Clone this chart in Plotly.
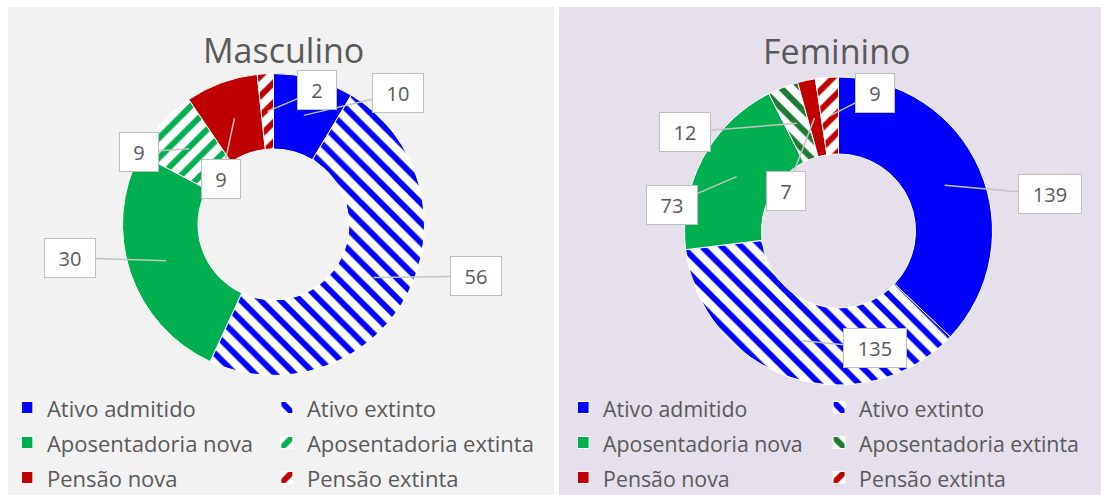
import math
import plotly.graph_objects as go

# ---------------- data ----------------
categories = ["Ativo admitido", "Ativo extinto", "Aposentadoria nova",
              "Aposentadoria extinta", "Pensão nova", "Pensão extinta"]
masculino = [10, 56, 30, 9, 9, 2]
feminino = [139, 135, 73, 12, 7, 9]
titles = ["Masculino", "Feminino"]

# ---------------- styling ----------------
W, H = 1104, 495
ML, MR, MT, MB = 16, 8, 0, 0
PW, PH = W - ML - MR, H - MT - MB
GRAY = "#595959"
FONT = "Open Sans"


def px(x):
    return (x - ML) / PW


def py(y):
    return 1 - (y - MT) / PH


BLUE, GREEN, RED = "#0000ff", "#00b050", "#c00000"
solid_m = [BLUE, "white", GREEN, "white", RED, "white"]
fg_m = [BLUE, BLUE, GREEN, GREEN, RED, RED]
shape_m = ["", "\\", "", "/", "", "/"]
solid_f = [BLUE, "white", GREEN, "white", RED, "white"]
fg_f = [BLUE, BLUE, GREEN, "#1e7b34", RED, RED]
shape_f = ["", "\\", "", "\\", "", "/"]

# donut geometry in pixels: (left, right, top, bottom)
boxes = [(122.5, 424.5, 73.5, 375.5), (684.5, 992.5, 77.0, 385.0)]
HOLE = 0.5

# label box offsets (pixels, from anchor point on the slice)
offs_m = [(94, -22), (102, -1.5), (-96, -3), (-50, 3), (-13, 61), (50, -21)]
offs_f = [(105, 9), (73, 7), (-65, 28), (-112, 9), (-28, 73), (45, -23)]

legend_sizes = [22, 21.3]

fig = go.Figure()
datasets = [(masculino, solid_m, fg_m, shape_m, "legend"),
            (feminino, solid_f, fg_f, shape_f, "legend2")]
for (vals, cols, fgs, shapes, leg), (x0, x1, y0, y1), fs in zip(datasets, boxes, legend_sizes):
    labels = ["<span style='font-size:%spx'>%s</span>" % (fs, c) for c in categories]
    fig.add_trace(go.Pie(
        labels=labels, values=vals, sort=False, direction="clockwise",
        rotation=0, hole=HOLE, textinfo="none", hoverinfo="label+value",
        domain=dict(x=[px(x0), px(x1)], y=[py(y1), py(y0)]),
        marker=dict(colors=cols, line=dict(color="white", width=1),
                    pattern=dict(shape=shapes, fgcolor=fgs, bgcolor=cols,
                                 size=14, solidity=0.42)),
        legend=leg, showlegend=True,
    ))

# panel backgrounds
shapes_list = [
    dict(type="rect", xref="paper", yref="paper", x0=px(8), x1=px(554),
         y0=py(496), y1=py(7), fillcolor="#f2f2f2", line_width=0, layer="below"),
    dict(type="rect", xref="paper", yref="paper", x0=px(559), x1=px(1101),
         y0=py(496), y1=py(7), fillcolor="#e5e0ec", line_width=0, layer="below"),
]

annotations = []
title_pos = [(283, 50), (836, 51)]
for t, (tx, ty) in zip(titles, title_pos):
    annotations.append(dict(text=t, x=px(tx), y=py(ty), xref="paper", yref="paper",
                            xanchor="center", yanchor="middle",
                            showarrow=False, font=dict(family=FONT, size=34, color=GRAY)))

for vals, offs, (x0, x1, y0, y1) in [(masculino, offs_m, boxes[0]), (feminino, offs_f, boxes[1])]:
    cx, cy = (x0 + x1) / 2, (y0 + y1) / 2
    r = min(x1 - x0, y1 - y0) / 2
    rm = r * (1 + HOLE) / 2
    total = sum(vals)
    cum = 0
    for v, (ox, oy) in zip(vals, offs):
        mid = (cum + v / 2) / total * 2 * math.pi
        cum += v
        ax_px = cx + rm * math.sin(mid)
        ay_px = cy - rm * math.cos(mid)
        n = len(str(v))
        annotations.append(dict(
            text=str(v), x=px(ax_px), y=py(ay_px), xref="paper", yref="paper",
            showarrow=True, arrowhead=0, arrowwidth=1.5, arrowcolor="#c4c4c4",
            ax=ox, ay=oy, axref="pixel", ayref="pixel", standoff=0,
            bgcolor="white", bordercolor="#bfbfbf", borderwidth=1, borderpad=1,
            width=24 + 12 * n, height=36,
            font=dict(family=FONT, size=20, color=GRAY)))

leg_common = dict(orientation="h", entrywidthmode="pixels", indentation=-15,
                  bgcolor="rgba(0,0,0,0)", bordercolor="rgba(0,0,0,0)", borderwidth=6,
                  font=dict(family=FONT, size=24.6, color=GRAY),
                  y=py(385 - 6), yanchor="top", traceorder="normal")

fig.update_layout(
    width=W, height=H, margin=dict(l=ML, r=MR, t=MT, b=MB, autoexpand=False),
    paper_bgcolor="white", plot_bgcolor="white",
    font=dict(family=FONT, color=GRAY),
    shapes=shapes_list, annotations=annotations,
    legend=dict(x=-0.0001, xanchor="left", entrywidth=230, **leg_common),
    legend2=dict(x=1.0001, xanchor="right", entrywidth=226, **leg_common),
)

fig.write_html("out.html", config={"displayModeBar": False},
               post_script="document.body.style.margin='0px';")
